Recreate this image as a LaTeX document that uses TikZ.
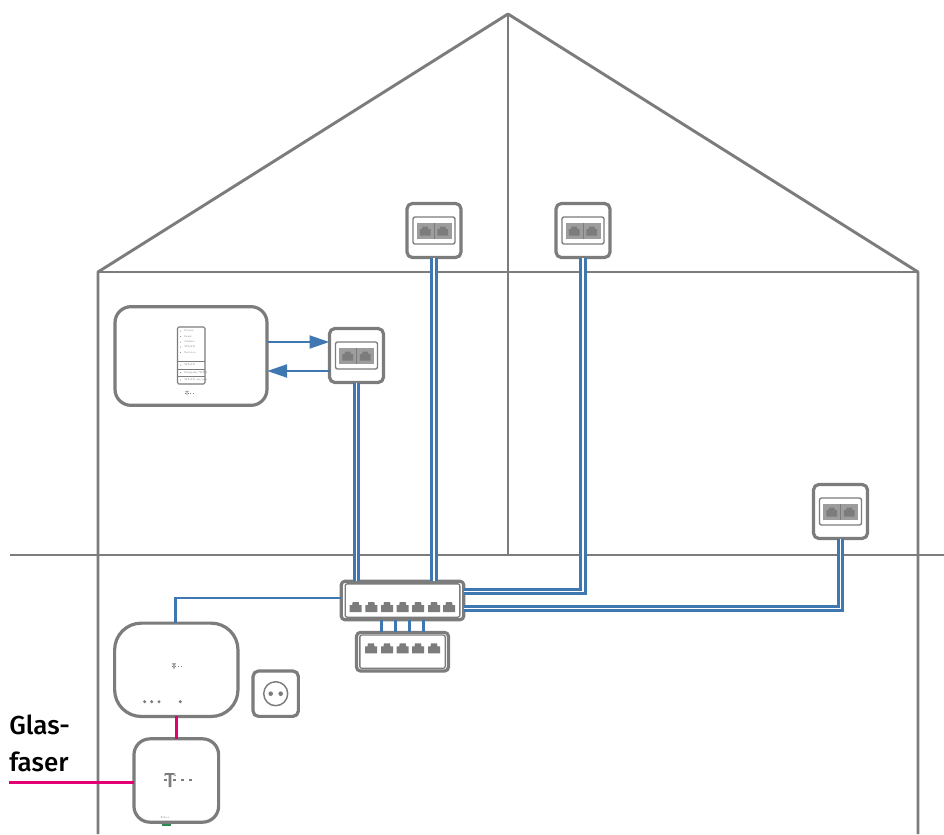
\documentclass[tikz,border=0pt]{standalone}
\usepackage{xcolor}
\usepackage{fontspec}
\usetikzlibrary{positioning}
\usetikzlibrary{arrows.meta}
\newfontfamily\labelfont[UprightFont={* Medium}]{Fira Sans}
\definecolor{wallgray}{HTML}{7C7C7C}
\definecolor{netblue}{HTML}{3F78B0}
\definecolor{fibermagenta}{HTML}{E20074}
\definecolor{ledgreen}{HTML}{2A8A50}
\tikzset{
	box/.style={draw=wallgray, line width=2.4pt, fill=white, inner sep=0pt, outer sep=0pt},
	innerbox/.style={draw=wallgray, line width=1pt, fill=white, rounded corners=1.5pt, inner sep=0pt, outer sep=0pt},
	cable/.style={draw=netblue, line width=2.1pt, double=white, double distance=1.4pt, line join=miter},
	patch/.style={draw=netblue, line width=2.2pt, line join=miter},
	fiber/.style={draw=fibermagenta, line width=2.25pt},
	tiny/.style={text=wallgray, font=\fontsize{2}{3}\selectfont, inner sep=0pt},
	rjport/.pic={\fill[wallgray] (-6,5) -- (-6,-2) -- (-3.5,-2) -- (-3,-5) -- (3,-5) -- (3.5,-2) -- (6,-2) -- (6,5) -- cycle;},
	logo/.pic={
		\fill[wallgray] (-1.4,-7) rectangle (1.4,7) (-5.5,-7) rectangle (5.5,-5.2) (-5.5,-7) rectangle (-4.3,-4) (5.5,-7) rectangle (4.3,-4);
		\foreach \x in {-4.8,4.8,12.7,20.7} \fill[wallgray] (\x-1.4,-1.4) rectangle (\x+1.4,1.4);
	},
	dose/.pic={
		\node[innerbox, minimum width=42pt*.75, minimum height=27pt*.75] (-in) at (0,0) {};
		\fill[wallgray!75] (-17.5,-8) rectangle (17.5,8);
		\draw[wallgray, line width=.6pt] (0,-8) -- (0,8);
		\foreach \x in {-8.8,8.8} \pic[scale=.9] at (\x,.5) {rjport};
	}
}
\begin{document}
\begin{tikzpicture}[x=.75pt, y=-.75pt, on grid, line join=round]
	\useasboundingbox (0,0) rectangle (944,834);
	% house
	\coordinate (roofl) at (98,272);
	\coordinate (roofr) at (918,272);
	\coordinate (top) at (508,14);
	\coordinate (floorl) at (98,555);
	\coordinate (floorr) at (918,555);
	\draw[wallgray, line width=.8pt] (roofl) -- (roofr) (top) -- (508,555) (floorl) -- (floorr);
	\draw[wallgray, line width=2.2pt] (98,834) -- (roofl) -- (top) -- (roofr) -- (918,834);
	\draw[wallgray, line width=1.6pt] (10,555) -- (floorl) (floorr) -- (944,555);
	% wall sockets
	\node[box, rounded corners=4pt, minimum width=40.5pt, minimum height=40.5pt] (dosea) at (434,230.5) {};
	\node[box, rounded corners=4pt, minimum width=40.5pt, minimum height=40.5pt, right=111.75pt of dosea] (doseb) {};
	\node[box, rounded corners=4pt, minimum width=40.5pt, minimum height=40.5pt] (dosec) at (356.5,355.5) {};
	\node[box, rounded corners=4pt, minimum width=40.5pt, minimum height=40.5pt] (dosed) at (840.5,511.5) {};
	\foreach \n in {dosea,doseb,dosec,dosed} \pic at (\n) {dose};
	% access point
	\node[box, rounded corners=12pt, minimum width=114pt, minimum height=74pt] (ap) at (191,356) {};
	\draw[wallgray, line width=.8pt, rounded corners=1pt] (177.5,327) rectangle (205,384);
	\draw[wallgray, line width=.8pt] (177.5,361.5) -- (205,361.5) (177.5,369.5) -- (205,369.5) (177.5,376.5) -- (205,376.5);
	\foreach \t/\y [count=\i] in {Power/331,Link/336.5,Online/342,WLAN/347,Service/352.5,WLAN/365,{Koppeln/WPS}/372.5,{WLAN an/aus}/380} {
		\fill[wallgray] (180.5,\y) circle (.5);
		\node[tiny, anchor=west] (led\i) at (184,\y) {\t};
	}
	\pic[scale=.3] at (187,393) {logo};
	% switches
	\node[box, rounded corners=3pt, minimum width=92pt, minimum height=29pt] (swa) at (402.5,600.5) {};
	\node[innerbox, minimum width=86pt, minimum height=25pt] (swain) at (swa) {};
	\foreach \x in {355.7,371.3,387,402.7,418,434,449} \pic at (\x,607) {rjport};
	\node[box, rounded corners=3pt, minimum width=69pt, minimum height=29pt, below=38.4pt of swa] (swb) {};
	\node[innerbox, minimum width=64pt, minimum height=25pt] (swbin) at (swb) {};
	\foreach \x in {371,387,402.7,418,434} \pic at (\x,648.3) {rjport};
	% router, modem, power socket
	\node[box, rounded corners=20pt, minimum width=92.5pt, minimum height=70pt] (router) at (176.3,669.8) {};
	\pic[scale=.36] at (174,666) {logo};
	\foreach \x in {144.7,151.7,159,180.3} \fill[wallgray] (\x,701.7) circle (1.7);
	\node[box, rounded corners=4pt, minimum width=34pt, minimum height=34pt] (steckdose) at (275.7,693.7) {};
	\node[circle, draw=wallgray, line width=1.1pt, minimum size=18pt, inner sep=0pt] (steckring) at (steckdose) {};
	\foreach \x in {270.7,280.7} \fill[wallgray] (\x,693.7) circle (2.3);
	\node[box, rounded corners=12pt, minimum width=63.5pt, minimum height=62.5pt] (modem) at (176.3,780.5) {};
	\pic at (170,780) {logo};
	\node[tiny] (modemled) at (165,818) {Fiber};
	\fill[ledgreen] (162,823.5) rectangle (170.5,826);
	% cables
	\path[cable] (dosea.south) -- (dosea.south |- swa.north);
	\path[cable] (dosec.south) -- (dosec.south |- swa.north);
	\path[cable] (swa.east |- 0,591.5) -- (doseb.south |- 0,591.5) -- (doseb.south);
	\path[cable] (swa.east |- 0,608.5) -- (dosed.south |- 0,608.5) -- (dosed.south);
	\draw[patch, -{Triangle[length=15pt, width=9.5pt]}] (ap.east |- 0,342) -- (dosec.west |- 0,342);
	\draw[patch, -{Triangle[length=15pt, width=9.5pt]}] (dosec.west |- 0,371) -- (ap.east |- 0,371);
	\foreach \x in {381.5,395.5,409.5,423.5} \draw[patch] (\x,0 |- swa.south) -- (\x,0 |- swb.north);
	\draw[patch] (router.north -| 175.7,0) -- (175.7,598) -- (swa.west |- 0,598);
	\draw[fiber] (router.south) -- (modem.north);
	\coordinate (fiberin) at (9,782);
	\draw[fiber] (fiberin) -- (modem.west |- fiberin);
	\node[anchor=west, align=left, inner sep=0pt, font=\labelfont\fontsize{19.5}{27.75}\selectfont] (glasfaser) at (9,743.5) {Glas-\\faser};
\end{tikzpicture}
\end{document}
